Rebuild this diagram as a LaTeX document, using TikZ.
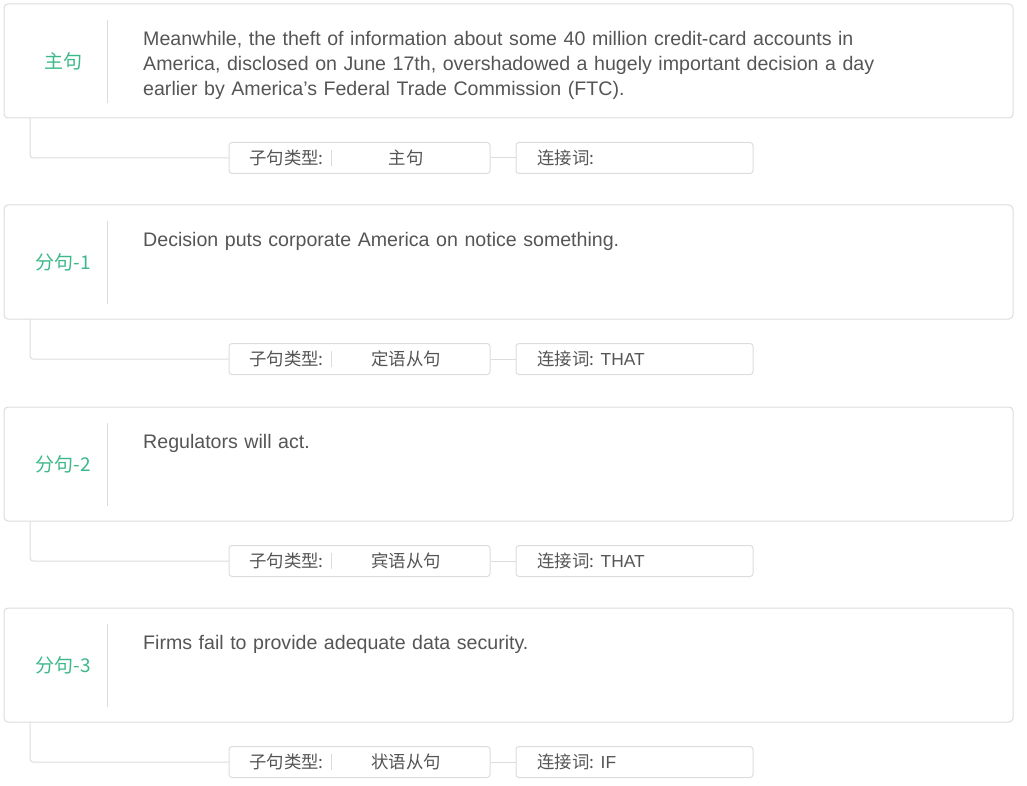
\documentclass[tikz,border=0pt]{standalone}
\usepackage{fontspec}
\setmainfont{Liberation Sans}
\newfontfamily\cjk{Noto Sans CJK SC}
\definecolor{bordc}{HTML}{DCDCDC}
\definecolor{txtc}{HTML}{555555}
\definecolor{grn}{HTML}{3DB88A}
\begin{document}
\begin{tikzpicture}[x=1pt,y=-1pt,
  mainbox/.style={draw=bordc, line width=1pt, rounded corners=4pt, minimum width=1009pt, minimum height=114pt, inner sep=0pt},
  smallbox/.style={draw=bordc, line width=1pt, rounded corners=3pt, minimum height=31pt, inner sep=0pt},
  lbl/.style={text=grn, font=\cjk\fontsize{19}{22}\selectfont, anchor=center},
  body/.style={text=txtc, font=\fontsize{19.6}{25}\selectfont, anchor=north west, align=left, inner sep=0pt, text width=800pt},
  small/.style={text=txtc, font=\fontsize{17.4}{20}\selectfont, inner sep=0pt},
  link/.style={draw=bordc, line width=1pt}
]
\useasboundingbox (0,0) rectangle (1027,786);
\foreach \o/\name/\txt/\kind/\conj [count=\i] in {
  0/{主句}/{Meanwhile, the theft of information about some 40 million credit-card accounts in\\America, disclosed on June 17th, overshadowed a hugely important decision a day\\earlier by America’s Federal Trade Commission (FTC).}/{主句}/{},
  201/{分句-1}/{Decision puts corporate America on notice something.}/{定语从句}/{THAT},
  403/{分句-2}/{Regulators will act.}/{宾语从句}/{THAT},
  604/{分句-3}/{Firms fail to provide adequate data security.}/{状语从句}/{IF}} {
  \begin{scope}[yshift=-\o pt]
  \node[mainbox] (b\i) at (508.5,61) {};
  \node[lbl] (l\i) at (63,61) {\name};
  \draw[link] (107,20) -- (107,103);
  \node[body] (t\i) at (143,31.5) {\txt};
  \node[smallbox, minimum width=261pt] (k\i) at (359.5,158) {};
  \draw[link] (331,150) -- (331,166);
  \node[small, anchor=west] (kl\i) at (249,158) {\cjk 子句类型:};
  \node[small] (kv\i) at (406,158) {\cjk \kind};
  \node[smallbox, minimum width=237pt] (c\i) at (634.5,158) {};
  \node[small, anchor=west] (cl\i) at (537,158) {{\cjk 连接词:} \conj};
  \coordinate (s\i) at (30,118);
  \draw[link, rounded corners=3pt] (s\i) |- (k\i.west);
  \draw[link] (k\i.east) -- (c\i.west);
  \end{scope}
}
\end{tikzpicture}
\end{document}
